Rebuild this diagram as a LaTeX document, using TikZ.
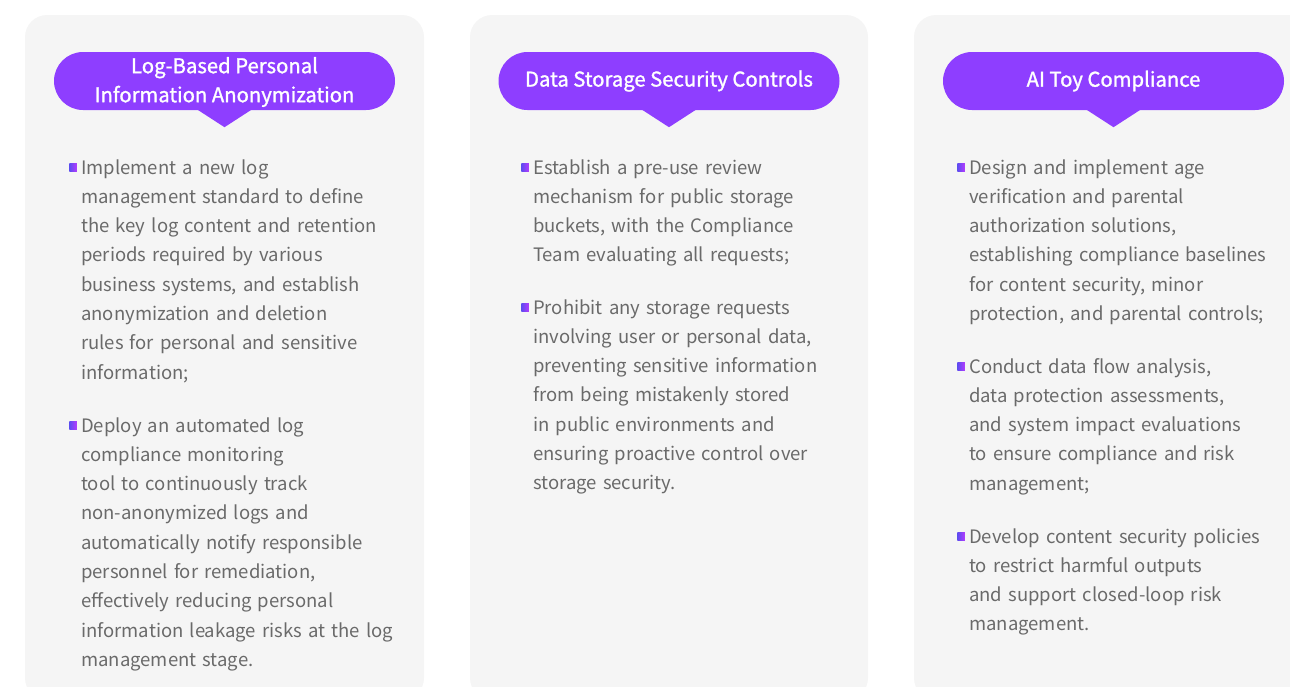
\documentclass[tikz,border=0pt]{standalone}
\usepackage{fontspec}
\setmainfont{Noto Sans CJK SC}
\newfontfamily\hdfont[FakeBold=1.3]{Noto Sans CJK SC}
\definecolor{cardbg}{HTML}{F5F5F5}
\definecolor{pillc}{HTML}{8E3EFF}
\definecolor{txt}{HTML}{6A6A6A}
\definecolor{bulA}{HTML}{5D4BF0}
\definecolor{bulB}{HTML}{B23CFF}
\tikzset{
  card/.style={fill=cardbg, rounded corners=22pt},
  pill/.style={fill=pillc, text=white, rounded corners=29pt, minimum width=341pt, minimum height=58pt, inner sep=0pt, align=center, font=\hdfont\fontsize{20.3}{29}\selectfont},
  pointer/.style={fill=pillc},
  para/.style={anchor=base west, align=left, text width=340pt, text=txt, inner sep=0pt, font=\fontsize{18.5}{29.3}\selectfont},
  bullet/.style={left color=bulA, right color=bulB, minimum width=7.5pt, minimum height=8pt, inner sep=0pt, outer sep=0pt}
}
\begin{document}
\begin{tikzpicture}[x=1pt,y=-1pt]
\useasboundingbox (0,0) rectangle (1290,686);
\clip (0,0) rectangle (1290,686);
% cards
\fill[card] (25,15) rectangle (424,700);
\fill[card] (470,15) rectangle (868,700);
\fill[card] (914,15) rectangle (1313,700);
% headers
\node[pill] (h1) at (224.5,81) {};
\node[text=white, align=center, inner sep=0pt, font=\hdfont\fontsize{20.3}{29}\selectfont] (t1) at (224.5,82) {Log-Based Personal\\Information Anonymization};
\node[pill] (h2) at (669,81) {Data Storage Security Controls};
\node[pill] (h3) at (1113.5,81) {AI Toy Compliance};
\foreach \h in {h1,h2,h3}{
  \fill[pointer] ([xshift=-27pt,yshift=0.5pt]\h.south) -- ([xshift=27pt,yshift=0.5pt]\h.south) -- ([yshift=-17pt]\h.south) -- cycle;
}
% card 1
\node[bullet] (b11) at (73,167) {};
\node[para] (p11) at (81,174) {Implement a new log\\management standard to define\\the key log content and retention\\periods required by various\\business systems, and establish\\anonymization and deletion\\rules for personal and sensitive\\information;};
\node[bullet] (b12) at (73,425) {};
\node[para] (p12) at (81,432) {Deploy an automated log\\compliance monitoring\\tool to continuously track\\non-anonymized logs and\\automatically notify responsible\\personnel for remediation,\\effectively reducing personal\\information leakage risks at the log\\management stage.};
% card 2
\node[bullet] (b21) at (525,167) {};
\node[para] (p21) at (533,174) {Establish a pre-use review\\mechanism for public storage\\buckets, with the Compliance\\Team evaluating all requests;};
\node[bullet] (b22) at (525,307) {};
\node[para] (p22) at (533,314) {Prohibit any storage requests\\involving user or personal data,\\preventing sensitive information\\from being mistakenly stored\\in public environments and\\ensuring proactive control over\\storage security.};
% card 3
\node[bullet] (b31) at (961,167) {};
\node[para] (p31) at (969,174) {Design and implement age\\verification and parental\\authorization solutions,\\establishing compliance baselines\\for content security, minor\\protection, and parental controls;};
\node[bullet] (b32) at (961,366) {};
\node[para] (p32) at (969,373) {Conduct data flow analysis,\\data protection assessments,\\and system impact evaluations\\to ensure compliance and risk\\management;};
\node[bullet] (b33) at (961,536) {};
\node[para] (p33) at (969,543) {Develop content security policies\\to restrict harmful outputs\\and support closed-loop risk\\management.};
\end{tikzpicture}
\end{document}
